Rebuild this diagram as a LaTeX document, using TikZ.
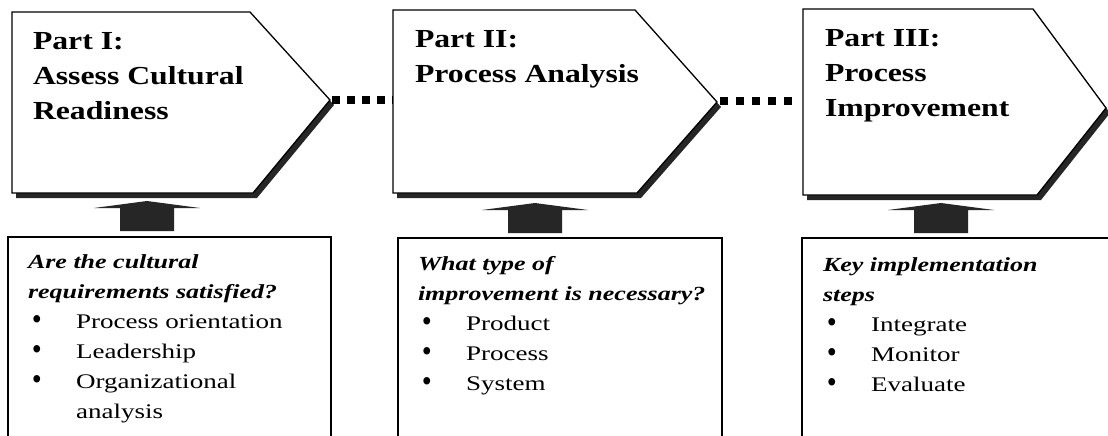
\documentclass[tikz,border=0pt]{standalone}
\usepackage{fontspec}
\setmainfont{Liberation Serif}
\usepackage{graphicx}
\newcommand\ttlblock[1]{\scalebox{1.22}[1]{\parbox[t]{300pt}{\raggedright\fontsize{26}{35}\selectfont\bfseries #1}}}
\newcommand\qblock[1]{\scalebox{1.3}[1]{\parbox[t]{300pt}{\raggedright\fontsize{20}{30}\selectfont #1}}}
\newcommand\bul{\raisebox{-1.8pt}{\scalebox{1.1}[1.55]{\textbullet}}}
\newcommand\itm[1]{\makebox[3pt][l]{}\makebox[34pt][l]{\bul}{\fontsize{20.8}{30}\selectfont #1}}
\newcommand\qhead[1]{{\bfseries\itshape #1}}
\tikzset{
  txt/.style={anchor=base west, inner sep=0pt, outer sep=0pt},
  partshape/.style={draw=black, line width=1.3pt, fill=white, line join=miter},
  partshadow/.style={fill=black!85},
  qbox/.style={draw=black, line width=1.2pt, fill=white},
  blockarrow/.style={fill=black!85},
  dotconn/.style={line width=8pt, line cap=butt},
}
\begin{document}
\begin{tikzpicture}[x=1pt,y=-1pt]
\useasboundingbox (0,0) rectangle (1108,436);
\fill[white] (0,0) rectangle (1108,436);
\clip (0,0) rectangle (1108,436);

% named corner coordinates
\coordinate (p1nw) at (12,12);   \coordinate (p1ne) at (250,12);
\coordinate (p1tip) at (330,100); \coordinate (p1se) at (253,193); \coordinate (p1sw) at (12,193);
\coordinate (p2nw) at (393,10);  \coordinate (p2ne) at (635,10);
\coordinate (p2tip) at (717,102); \coordinate (p2se) at (637,193); \coordinate (p2sw) at (393,193);
\coordinate (p3nw) at (803,9);   \coordinate (p3ne) at (1033,9);
\coordinate (p3tip) at (1106,108); \coordinate (p3se) at (1037,195); \coordinate (p3sw) at (803,195);
\coordinate (p2w) at (393,100);
\coordinate (p3w) at (803,101);

% shadows
\foreach \i in {1,2,3}{
  \fill[partshadow] ([shift={(4pt,-5pt)}]p\i nw) -- ([shift={(4pt,-5pt)}]p\i ne) -- ([shift={(4pt,-5pt)}]p\i tip)
    -- ([shift={(4pt,-5pt)}]p\i se) -- ([shift={(4pt,-5pt)}]p\i sw) -- cycle;
}
% part shapes
\foreach \i in {1,2,3}{
  \draw[partshape] (p\i nw) -- (p\i ne) -- (p\i tip) -- (p\i se) -- (p\i sw) -- cycle;
}

% dotted connectors
\draw[dotconn, dash pattern=on 8pt off 7pt] ([xshift=2pt]p1tip) -- (p2w);
\draw[dotconn, dash pattern=on 8pt off 8pt] ([xshift=3pt,yshift=1pt]p2tip) -- ([xshift=-10pt]p3w);

% titles
\node[txt] (t1) at (33,50) {\ttlblock{Part I:\\Assess Cultural\\Readiness}};
\node[txt] (t2) at (415,48) {\ttlblock{Part II:\\Process Analysis}};
\node[txt] (t3) at (825,47) {\ttlblock{Part III:\\Process\\Improvement}};

% question boxes
\draw[qbox] (8,237) rectangle (331,460);
\draw[qbox] (398,238) rectangle (722,460);
\draw[qbox] (802,238) rectangle (1130,460);

% block arrows
\coordinate (a1) at (147,200);
\coordinate (a2) at (535,202);
\coordinate (a3) at (941,202);
\foreach \a in {a1,a2,a3}{
  \fill[blockarrow, shift={(\a)}] (-53,8) -- (0,1) -- (53,8) -- (27,8) -- (27,31) -- (-27,31) -- (-27,8) -- cycle;
}

% box texts
\node[txt] (q1) at (28,268) {\qblock{\qhead{Are the cultural\\requirements satisfied?}\\
  \itm{Process orientation}\\ \itm{Leadership}\\ \itm{Organizational}\\ \hspace*{37pt}{\fontsize{20.8}{30}\selectfont analysis}}};
\node[txt] (q2) at (418,270) {\qblock{\qhead{What type of\\improvement is necessary?}\\
  \itm{Product}\\ \itm{Process}\\ \itm{System}}};
\node[txt] (q3) at (823,271) {\qblock{\qhead{Key implementation\\steps}\\
  \itm{Integrate}\\ \itm{Monitor}\\ \itm{Evaluate}}};
\end{tikzpicture}
\end{document}
